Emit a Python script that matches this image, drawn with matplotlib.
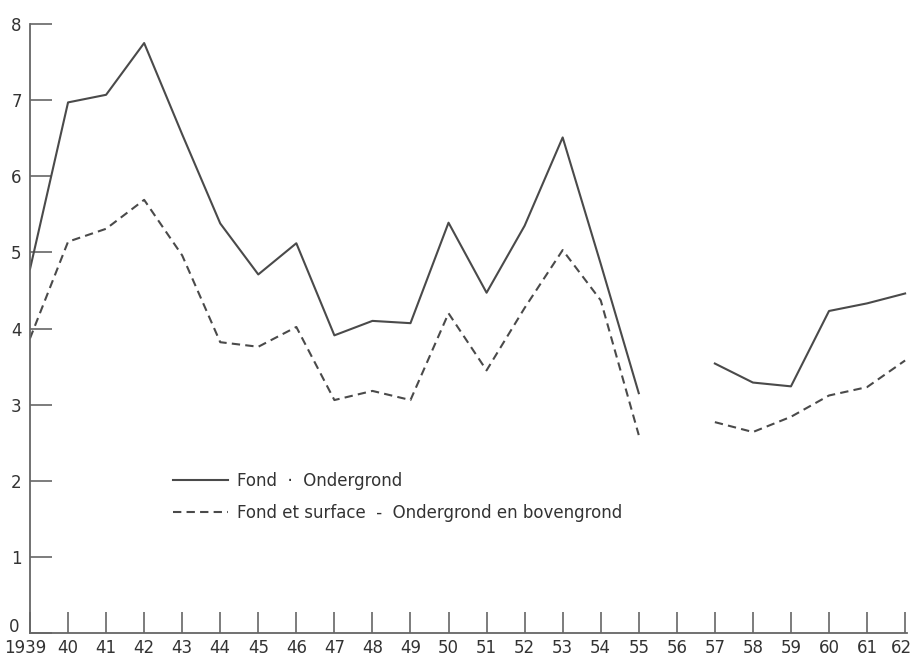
import numpy as np
import matplotlib
matplotlib.use("Agg")
import matplotlib.pyplot as plt
from matplotlib.transforms import ScaledTranslation

years = list(range(1939, 1963))
year_labels = ["1939"] + [f"{y % 100:02d}" for y in range(1940, 1963)]
fond = [4.78, 6.97, 7.07, 7.75, 6.55, 5.38, 4.71, 5.12, 3.91, 4.10, 4.07,
        5.39, 4.47, 5.35, 6.51, 4.85, 3.15, np.nan, 3.54, 3.29, 3.24, 4.23, 4.33, 4.46]
fond_surface = [3.87, 5.14, 5.31, 5.69, 4.96, 3.82, 3.76, 4.02, 3.06, 3.18, 3.06,
                4.20, 3.45, 4.27, 5.03, 4.37, 2.60, np.nan, 2.77, 2.64, 2.84, 3.12, 3.23, 3.58]
label_fond = "Fond  ·  Ondergrond"
label_fs = "Fond et surface  -  Ondergrond en bovengrond"
yticks = list(range(0, 9))

col = "#4a4a4a"
fig = plt.figure(figsize=(9.11, 6.59), dpi=100)
ax = fig.add_axes([30/911, 1 - 633/659, (907-30)/911, (633-24)/659])

ax.plot(years, fond, color=col, lw=1.5, label=label_fond)
ax.plot(years, fond_surface, color=col, lw=1.5, dashes=(4, 2.5), label=label_fs)

ax.set_xlim(1939, 1962.05)
ax.set_ylim(0, 8)
ax.spines["top"].set_visible(False)
ax.spines["right"].set_visible(False)
for s in ("left", "bottom"):
    ax.spines[s].set_color("#666666")
    ax.spines[s].set_linewidth(1.3)

ax.set_xticks(years)
ax.set_xticklabels(year_labels)
ax.set_yticks(yticks)
ax.set_yticklabels([str(v) for v in yticks])
ax.tick_params(axis="x", direction="in", length=15, width=1.2, color="#666666",
               labelsize=12, labelcolor="#333333", pad=4)
ax.tick_params(axis="y", direction="in", length=16, width=1.2, color="#666666",
               labelsize=12, labelcolor="#333333", pad=6)

# nudge crowded corner labels
xl = ax.get_xticklabels()
xl[0].set_transform(xl[0].get_transform() + ScaledTranslation(-5/100, 0, fig.dpi_scale_trans))
xl[-1].set_transform(xl[-1].get_transform() + ScaledTranslation(-4/100, 0, fig.dpi_scale_trans))
yl = ax.get_yticklabels()
yl[0].set_transform(yl[0].get_transform() + ScaledTranslation(-2/100, 8/100, fig.dpi_scale_trans))

leg = ax.legend(loc="upper left", bbox_to_anchor=(0.155, 0.275), frameon=False,
                fontsize=12, handlelength=3.3, handletextpad=0.55, labelspacing=0.8,
                borderaxespad=0)
for t in leg.get_texts():
    t.set_color("#333333")

fig.savefig("out.png", dpi=100, facecolor="white")
